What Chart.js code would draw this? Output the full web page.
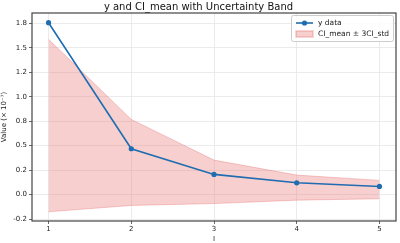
<!DOCTYPE html>
<html lang="en">
<head>
    <meta charset="UTF-8">
    <title>y and CI_mean with Uncertainty Band</title>
    <script src="https://cdn.jsdelivr.net/npm/chart.js"></script>
    <style>
        html, body { margin: 0; padding: 0; background: #fff; }
        #wrap { width: 400px; height: 243px; }
    </style>
</head>
<body>
    <div id="wrap"><canvas id="myChart" width="400" height="243"></canvas></div>

    <script>
        // data (values in units of 1e-7)
        const xValues = [1, 2, 3, 4, 5];
        const yData = [1.756, 0.468, 0.206, 0.120, 0.083];
        const bandUpper = [1.586, 0.768, 0.352, 0.199, 0.145];
        const bandLower = [-0.176, -0.111, -0.092, -0.057, -0.043];
        const yTickValues = [-0.25, 0, 0.25, 0.5, 0.75, 1.0, 1.25, 1.5, 1.75];
        const yTickLabels = ['-0.2', '0.0', '0.2', '0.5', '0.8', '1.0', '1.2', '1.5', '1.8'];
        const xTickValues = [1, 2, 3, 4, 5];

        const FONT = 'DejaVu Sans';
        const lineColor = '#1f6db0';
        const bandFill = 'rgba(236, 130, 130, 0.38)';
        const bandEdge = 'rgba(225, 110, 110, 0.35)';

        const pts = arr => xValues.map((x, i) => ({ x: x, y: arr[i] }));

        // frame + legend inside the plot, like matplotlib
        const framePlugin = {
            id: 'frameLegend',
            afterDraw(chart) {
                const c = chart.ctx;
                const a = chart.chartArea;
                c.save();
                c.strokeStyle = '#444';
                c.lineWidth = 1.2;
                c.strokeRect(a.left, a.top, a.right - a.left, a.bottom - a.top);

                const bx = 291.5, by = 15.5, bw = 102, bh = 26;
                c.fillStyle = 'rgba(255,255,255,0.85)';
                c.strokeStyle = '#cccccc';
                c.lineWidth = 1;
                c.beginPath();
                c.roundRect(bx, by, bw, bh, 2);
                c.fill();
                c.stroke();

                const ds = chart.data.datasets;
                // line sample
                c.strokeStyle = lineColor;
                c.lineWidth = 1.6;
                c.beginPath();
                c.moveTo(296, 23);
                c.lineTo(313, 23);
                c.stroke();
                c.fillStyle = lineColor;
                c.beginPath();
                c.arc(304.5, 23, 2.6, 0, Math.PI * 2);
                c.fill();
                // patch sample
                c.fillStyle = bandFill;
                c.fillRect(296, 31, 17, 6);
                c.strokeStyle = bandEdge;
                c.strokeRect(296, 31, 17, 6);

                c.fillStyle = '#222';
                c.font = '7.5px "' + FONT + '"';
                c.textBaseline = 'middle';
                c.textAlign = 'left';
                c.fillText(ds[0].label, 318, 23);
                c.fillText(ds[2].label, 318, 34);
                c.restore();
            }
        };

        const ctx = document.getElementById('myChart').getContext('2d');
        const myChart = new Chart(ctx, {
            type: 'line',
            data: {
                datasets: [
                    {
                        label: 'y data',
                        data: pts(yData),
                        borderColor: lineColor,
                        backgroundColor: lineColor,
                        borderWidth: 1.6,
                        pointRadius: 2.6,
                        pointBorderWidth: 0,
                        fill: false,
                        order: 0
                    },
                    {
                        label: 'lower',
                        data: pts(bandLower),
                        borderColor: bandEdge,
                        borderWidth: 1,
                        pointRadius: 0,
                        fill: false,
                        order: 1
                    },
                    {
                        label: 'CI_mean ± 3CI_std',
                        data: pts(bandUpper),
                        borderColor: bandEdge,
                        backgroundColor: bandFill,
                        borderWidth: 1,
                        pointRadius: 0,
                        fill: 1,
                        order: 1
                    }
                ]
            },
            options: {
                responsive: false,
                animation: false,
                layout: { padding: { left: 0, right: 3, top: 0, bottom: 0 } },
                plugins: {
                    legend: { display: false },
                    tooltip: { enabled: false },
                    title: {
                        display: true,
                        text: 'y and CI_mean with Uncertainty Band',
                        color: '#111',
                        font: { family: FONT, size: 10, weight: 'normal', lineHeight: 1.2 },
                        padding: { top: 1, bottom: 0 }
                    }
                },
                scales: {
                    x: {
                        type: 'linear',
                        min: 0.8,
                        max: 5.2,
                        afterBuildTicks: s => { s.ticks = xTickValues.map(v => ({ value: v })); },
                        afterFit: s => { s.height = 22; },
                        ticks: {
                            color: '#222',
                            font: { family: FONT, size: 7 },
                            padding: 1,
                            maxRotation: 0,
                            callback: v => String(v)
                        },
                        grid: { color: '#e6e6e6', lineWidth: 0.8, tickLength: 3, tickColor: '#444' },
                        border: { display: false },
                        title: {
                            display: true,
                            text: 'I',
                            color: '#222',
                            font: { family: FONT, size: 7 },
                            padding: { top: 1, bottom: 0 }
                        }
                    },
                    y: {
                        type: 'linear',
                        min: -0.27,
                        max: 1.855,
                        afterBuildTicks: s => { s.ticks = yTickValues.map(v => ({ value: v })); },
                        afterFit: s => { s.width = 32; },
                        ticks: {
                            color: '#222',
                            font: { family: FONT, size: 7 },
                            padding: 2,
                            callback: (v) => yTickLabels[yTickValues.indexOf(v)]
                        },
                        grid: { color: '#e6e6e6', lineWidth: 0.8, tickLength: 3, tickColor: '#444' },
                        border: { display: false },
                        title: {
                            display: true,
                            text: 'Value (× 10⁻⁷)',
                            color: '#222',
                            font: { family: FONT, size: 7 },
                            padding: { top: 0, bottom: 1 }
                        }
                    }
                }
            },
            plugins: [framePlugin]
        });
    </script>
</body>
</html>
